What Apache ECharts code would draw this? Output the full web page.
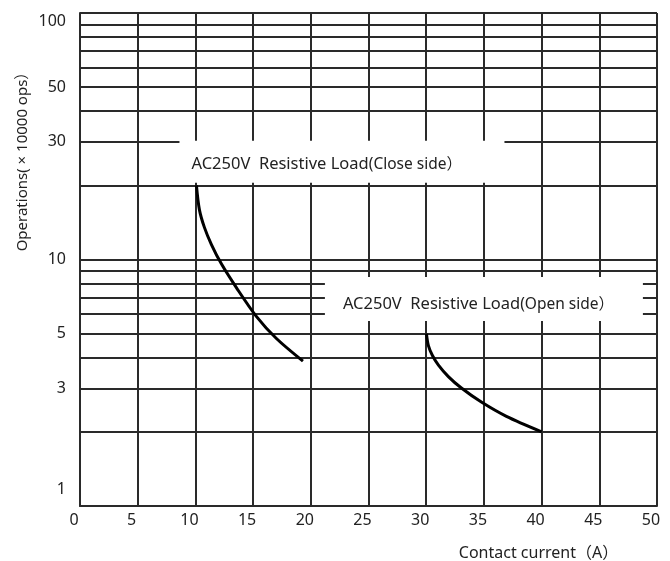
<!DOCTYPE html>
<html>
<head>
<meta charset="utf-8">
<script src="https://cdn.jsdelivr.net/npm/echarts@6/dist/echarts.min.js"></script>
<style>
html, body { margin: 0; padding: 0; background: #fff; }
#main { width: 670px; height: 561px; }
</style>
</head>
<body>
<div id="main"></div>
<script>
// 接点电流 (A) 与 动作次数 (×10000 ops)
var closeCurrent = [10.09, 10.35, 10.78, 11.39, 12.25, 13.55, 15.28, 17.02, 19.32];
var closeOps = [20, 15.9, 13.5, 11.5, 9.6, 7.69, 5.88, 4.78, 3.87];
var openCurrent = [30.02, 30.19, 30.54, 31.06, 31.92, 33.05, 34.78, 36.95, 40.0];
var openOps = [5.0, 4.47, 4.08, 3.73, 3.35, 3.01, 2.64, 2.31, 2.0];

// 对数网格线与刻度标签
var yGridValues = [1, 2, 3, 4, 5, 6, 7, 8, 9, 10, 20, 30, 40, 50, 60, 70, 80, 90, 100];
var yTickLabels = [1, 3, 5, 10, 30, 50, 100];

var closeLabel = ['AC250V  Resistive Load', '(Close side）'];
var openLabel = ['AC250V  Resistive Load', '(Open side）'];

var FONT = "'Noto Sans', 'Noto Sans CJK SC', sans-serif";
var LINE_COLOR = '#2a2a2a';
var TEXT_COLOR = '#222';

function toPairs(xs, ys) {
    var out = [];
    for (var i = 0; i < xs.length; i++) {
        out.push([xs[i], ys[i]]);
    }
    return out;
}

// 水平网格线（含左侧刻度标签）
function buildGridLines() {
    var yMin = yGridValues[0];
    var yMax = yGridValues[yGridValues.length - 1];
    return yGridValues.map(function (v) {
        var label = {
            show: yTickLabels.indexOf(v) >= 0,
            formatter: '{t|' + v + '}'
        };
        // 上下两端的标签向内收
        if (v === yMax) label.verticalAlign = 'top';
        if (v === yMin) {
            label.verticalAlign = 'bottom';
            label.formatter = '{low|' + v + '}';
        }
        return { yAxis: v, label: label };
    });
}

function richLabel(parts) {
    return '{a|' + parts[0] + '}{b|' + parts[1] + '}';
}

var chart = echarts.init(document.getElementById('main'), null, { renderer: 'canvas' });

var option = {
    backgroundColor: '#fff',
    animation: false,
    grid: { left: 80, right: 13, top: 13, bottom: 55, outerBoundsMode: 'none' },
    xAxis: {
        type: 'value',
        min: 0,
        max: 50,
        interval: 5,
        name: 'Contact current（A）',
        nameLocation: 'middle',
        nameGap: 39,
        nameTextStyle: {
            fontFamily: FONT, fontSize: 16, color: TEXT_COLOR,
            padding: [0, 0, 0, 340]
        },
        axisLine: { show: true, onZero: false, lineStyle: { color: LINE_COLOR, width: 2 } },
        axisTick: { show: false },
        axisLabel: {
            fontFamily: FONT, fontSize: 16, color: TEXT_COLOR,
            margin: 6, padding: [0, 12, 0, 0]
        },
        splitLine: { show: true, lineStyle: { color: LINE_COLOR, width: 2 } }
    },
    yAxis: {
        type: 'log',
        logBase: 10,
        min: 1,
        max: 100,
        name: 'Operations( × 10000 ops）',
        nameLocation: 'middle',
        nameGap: 50,
        nameTextStyle: {
            fontFamily: FONT, fontSize: 15, color: TEXT_COLOR,
            padding: [0, 0, 0, 203]
        },
        axisLine: { show: true, onZero: false, lineStyle: { color: LINE_COLOR, width: 2 } },
        axisTick: { show: false },
        axisLabel: { show: false },
        splitLine: { show: false }
    },
    series: [
        {
            name: 'grid',
            type: 'line',
            data: [],
            silent: true,
            markLine: {
                z: 1,
                silent: true,
                symbol: ['none', 'none'],
                lineStyle: { color: LINE_COLOR, width: 2, type: 'solid' },
                label: {
                    position: 'start',
                    distance: 14,
                    fontFamily: FONT,
                    fontSize: 16,
                    color: TEXT_COLOR,
                    rich: {
                        t: { fontFamily: FONT, fontSize: 16, color: TEXT_COLOR },
                        low: { fontFamily: FONT, fontSize: 16, color: TEXT_COLOR, lineHeight: 34 }
                    }
                },
                emphasis: { disabled: true },
                data: buildGridLines()
            }
        },
        {
            name: 'notes',
            type: 'line',
            data: [],
            silent: true,
            markPoint: {
                z: 3,
                silent: true,
                symbol: 'rect',
                itemStyle: { color: '#fff' },
                label: {
                    show: true,
                    align: 'left',
                    verticalAlign: 'middle',
                    color: TEXT_COLOR,
                    rich: {
                        a: { fontFamily: FONT, fontSize: 16.5, color: TEXT_COLOR },
                        b: { fontFamily: FONT, fontSize: 15.5, color: TEXT_COLOR }
                    }
                },
                data: [
                    {
                        coord: [22.7, 24.9],
                        symbolSize: [325, 42],
                        label: { position: [12, '57%'], formatter: richLabel(closeLabel) }
                    },
                    {
                        coord: [35.0, 6.92],
                        symbolSize: [318, 44],
                        label: { position: [18, '62%'], formatter: richLabel(openLabel) }
                    }
                ]
            }
        },
        {
            name: 'Close side',
            type: 'line',
            z: 4,
            smooth: 0.3,
            symbol: 'none',
            lineStyle: { color: '#000', width: 3 },
            data: toPairs(closeCurrent, closeOps)
        },
        {
            name: 'Open side',
            type: 'line',
            z: 4,
            smooth: 0.3,
            symbol: 'none',
            lineStyle: { color: '#000', width: 3 },
            data: toPairs(openCurrent, openOps)
        }
    ]
};

chart.setOption(option);
</script>
</body>
</html>
